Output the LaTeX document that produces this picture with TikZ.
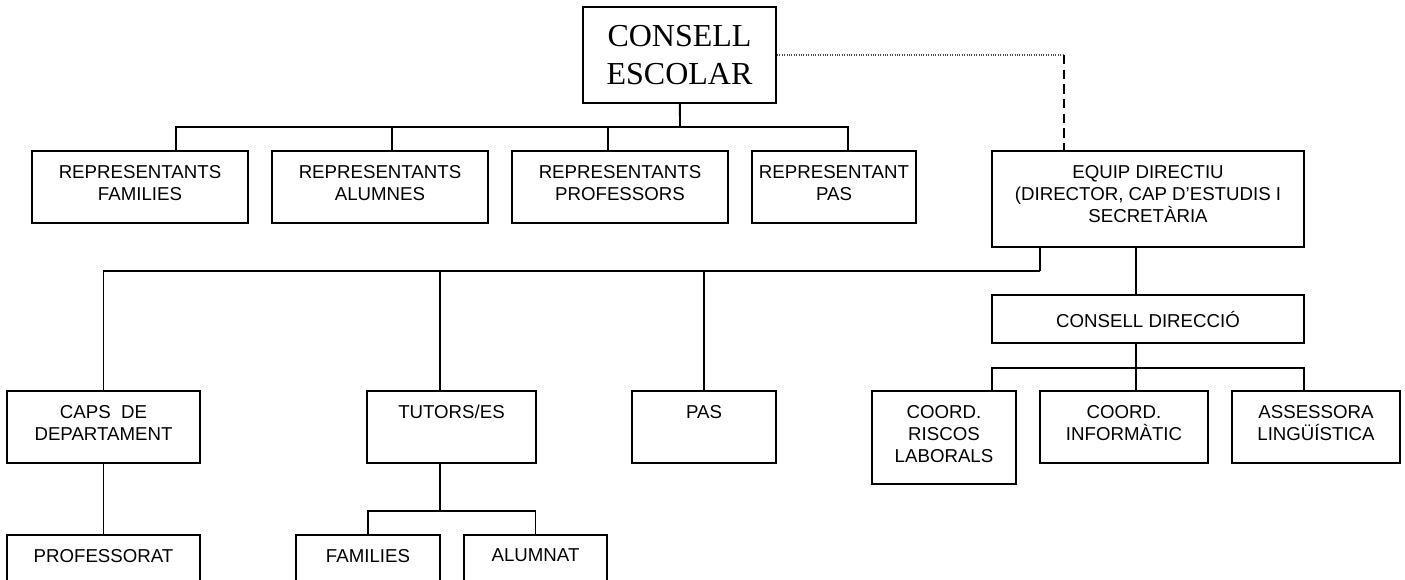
\documentclass[tikz,border=0pt]{standalone}
\usepackage{fontspec}
\setmainfont{Liberation Serif}
\setsansfont{Liberation Sans}
\tikzstyle{box} = [rectangle, 
draw, 
line width=1.4pt, 
inner sep=0pt, 
minimum height=54pt]
\tikzstyle{boxtext} = [anchor=north, 
align=center, 
inner sep=0pt, 
yshift=-11pt, 
font=\sffamily\fontsize{14}{16.7}\selectfont]
\tikzstyle{link} = [line width=1.4pt]

\begin{document}
\begin{tikzpicture}[x=0.75pt, y=-0.75pt]
        \clip (0,0) rectangle (1405,580);
        \node (consell_escolar) [box, minimum width=144.75pt, minimum height=72pt, align=center, font=\fontsize{24}{28}\selectfont] at (679.5,55) {CONSELL\\ESCOLAR};

        % representants
        \node (rep_families) [box, minimum width=162pt, label={[boxtext]north:{REPRESENTANTS\\FAMILIES}}] at (140,187) {};
        \node (rep_alumnes) [box, minimum width=162pt, label={[boxtext]north:{REPRESENTANTS\\ALUMNES}}] at (380,187) {};
        \node (rep_professors) [box, minimum width=162pt, label={[boxtext]north:{REPRESENTANTS\\PROFESSORS}}] at (620,187) {};
        \node (rep_pas) [box, minimum width=123pt, label={[boxtext]north:{REPRESENTANT\\PAS}}] at (834,187) {};
        \node (equip_directiu) [box, minimum width=234pt, minimum height=72pt, label={[boxtext]north:{EQUIP DIRECTIU\\(DIRECTOR, CAP D’ESTUDIS I\\SECRETÀRIA}}] at (1148,199) {};
        \node (consell_direccio) [box, minimum width=234pt, minimum height=36pt, font=\sffamily\fontsize{14}{16.7}\selectfont] at (1148,319) {CONSELL DIRECCIÓ};

        % third row
        \node (caps_dept) [box, minimum width=144.75pt, label={[boxtext]north:{CAPS\ \ DE\\DEPARTAMENT}}] at (103.5,427) {};
        \node (tutors) [box, minimum width=126.75pt, label={[boxtext]north:{TUTORS/ES}}] at (451.5,427) {};
        \node (pas) [box, minimum width=108pt, label={[boxtext]north:{PAS}}] at (704,427) {};
        \node (coord_riscos) [box, minimum width=108pt, minimum height=69.75pt, label={[boxtext]north:{COORD.\\RISCOS\\LABORALS}}] at (944,437.5) {};
        \node (coord_informatic) [box, minimum width=126pt, label={[boxtext]north:{COORD.\\INFORMÀTIC}}] at (1124,427) {};
        \node (assessora) [box, minimum width=126pt, label={[boxtext]north:{ASSESSORA\\LINGÜÍSTICA}}] at (1316,427) {};

        % bottom row
        \node (professorat) [box, minimum width=144.75pt, label={[boxtext]north:{PROFESSORAT}}] at (103.5,571) {};
        \node (families) [box, minimum width=108pt, label={[boxtext]north:{FAMILIES}}] at (368,571) {};
        \node (alumnat) [box, minimum width=107.25pt, label={[boxtext]north:{ALUMNAT}}] at (535.5,571) {};

        \coordinate (bus_consell) at (680,127);
        \coordinate (bus_equip) at (1040,271);
        \coordinate (bus_direccio) at (1136,368);
        \coordinate (bus_tutors) at (440,511);
        \coordinate (corner) at (1064,55);

        \draw [link] (consell_escolar) -- (bus_consell);
        \draw [link] ([xshift=27pt]rep_families.north) |- (bus_consell);
        \draw [link] ([xshift=9pt]rep_alumnes.north) |- (bus_consell);
        \draw [link] ([xshift=-9pt]rep_professors.north) |- (bus_consell);
        \draw [link] ([xshift=10.5pt]rep_pas.north) |- (bus_consell);

        \draw [line width=0.8pt, densely dotted, gray!60!black] (consell_escolar.east) -- (corner);
        \draw [line width=1.4pt, dash pattern=on 7pt off 4pt] (corner) -- ([xshift=-63pt]equip_directiu.north);

        \draw [link] ([xshift=-81pt]equip_directiu.south) -- (bus_equip);
        \draw [link] (caps_dept.north) |- (bus_equip);
        \draw [link] ([xshift=-8.6pt]tutors.north) |- (bus_equip);
        \draw [link] (pas.north) |- (bus_equip);

        \draw [link] ([xshift=-9pt]equip_directiu.south) -- ([xshift=-9pt]consell_direccio.north);
        \draw [link] ([xshift=-9pt]consell_direccio.south) -- (bus_direccio);
        \draw [link] ([xshift=36pt]coord_riscos.north) |- (bus_direccio);
        \draw [link] ([xshift=9pt]coord_informatic.north) |- (bus_direccio);
        \draw [link] ([xshift=-9pt]assessora.north) |- (bus_direccio);

        \draw [link] (caps_dept) -- (professorat);
        \draw [link] ([xshift=-8.6pt]tutors.south) -- (bus_tutors);
        \draw [link] (families.north) |- (bus_tutors);
        \draw [link] (alumnat.north) |- (bus_tutors);
    \end{tikzpicture}
\end{document}
